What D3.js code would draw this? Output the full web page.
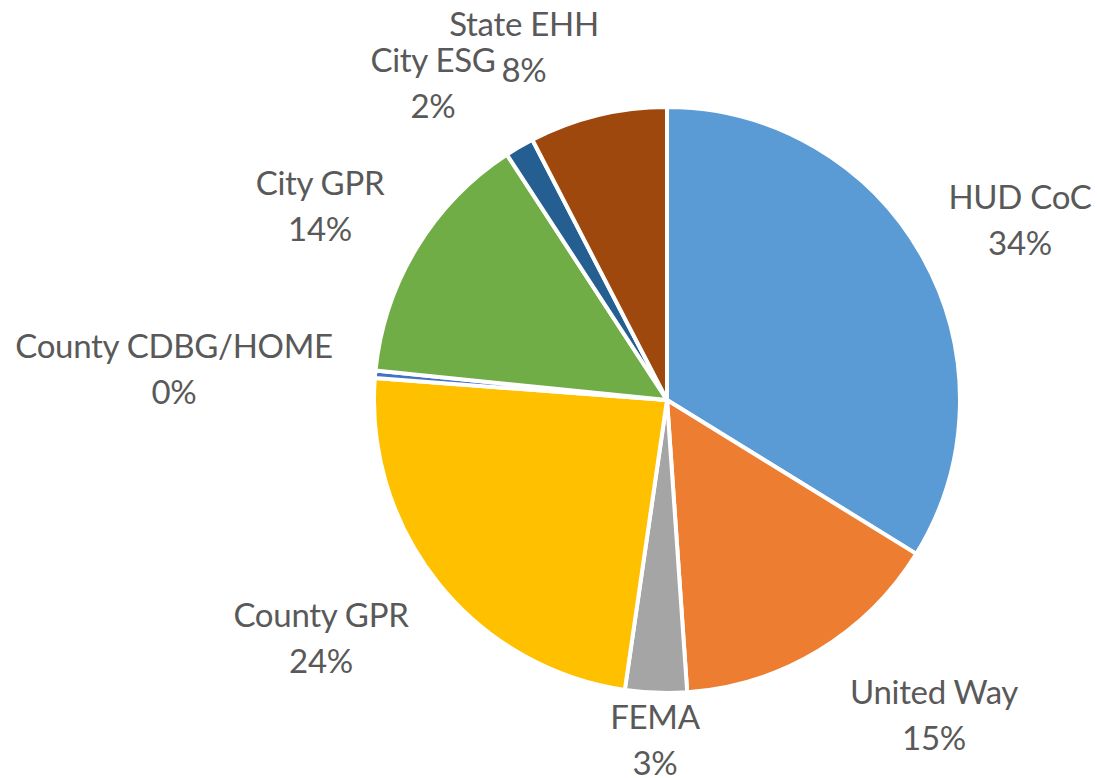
<!DOCTYPE html>
<html>
<head>
<meta charset="utf-8">
<script src="https://cdn.jsdelivr.net/npm/d3@7"></script>
<style>
  body { margin: 0; background: #fff; }
  text { font-family: Lato, "Open Sans", sans-serif; fill: #595959; }
</style>
</head>
<body>
<script>
// data
categories = ['HUD CoC', 'United Way', 'FEMA', 'County GPR', 'County CDBG/HOME', 'City GPR', 'City ESG', 'State EHH']
values = [33.8, 15.1, 3.4, 23.9, 0.4, 14.2, 1.6, 7.6]
colors = ['#5B9BD5', '#ED7D31', '#A5A5A5', '#FFC000', '#4472C4', '#70AD47', '#255E91', '#9E480E']

// label placement, relative to the pie centre (first line baseline)
labelOffsets = [
  [353, -191], [267, 304], [-12, 329], [-346, 227],
  [-493, -42], [-347, -205], [-234, -328], [-143, -364]
]

function main(){
  w = 1097
  h = 778
  cx = 667
  cy = 400
  radius = 293

  svg = d3.select('body')
          .append('svg')
          .attr('width', w)
          .attr('height', h)

  total = d3.sum(values)
  rows = categories.map((c, i) => ({ name: c, value: values[i], color: colors[i], off: labelOffsets[i] }))

  pie = d3.pie()
          .sort(null)
          .value(d => d.value)

  arc = d3.arc()
          .innerRadius(0)
          .outerRadius(radius)

  g = svg.append('g')
         .attr('transform', `translate(${cx}, ${cy})`)

  // slices
  g.selectAll('path')
   .data(pie(rows))
   .enter()
     .append('path')
     .attr('d', arc)
     .attr('fill', d => d.data.color)
     .attr('stroke', '#fff')
     .attr('stroke-width', 4)
     .attr('stroke-linejoin', 'round')

  // labels
  labels = g.selectAll('text')
            .data(rows)
            .enter()
              .append('text')
              .attr('text-anchor', 'middle')
              .attr('font-size', 33)
              .attr('letter-spacing', -0.3)

  labels.append('tspan')
        .attr('x', d => d.off[0])
        .attr('y', d => d.off[1])
        .text(d => d.name)

  labels.append('tspan')
        .attr('x', d => d.off[0])
        .attr('y', d => d.off[1] + 46)
        .text(d => Math.round(d.value / total * 100) + '%')
}

main()
</script>
</body>
</html>
